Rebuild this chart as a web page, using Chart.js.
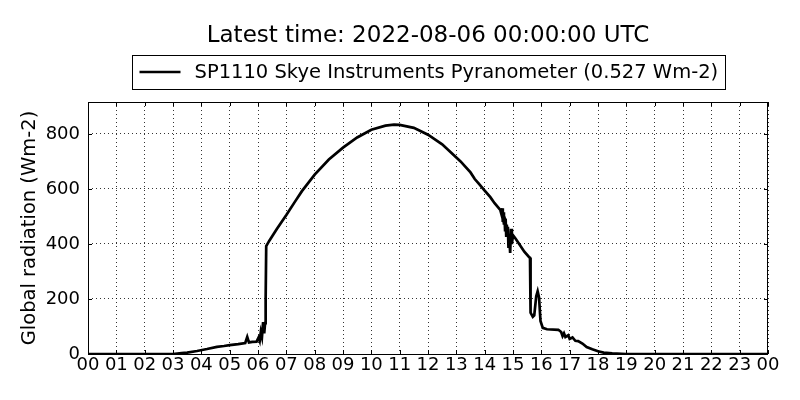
<!DOCTYPE html>
<html>
<head>
<meta charset="utf-8">
<script src="https://cdn.jsdelivr.net/npm/chart.js@4.4.1/dist/chart.umd.min.js"></script>
<style>
  html, body { margin: 0; padding: 0; background: #fff; }
  #wrap { width: 800px; height: 400px; }
</style>
</head>
<body>
<div id="wrap"><canvas id="radiation-chart"></canvas></div>
<script>
const titleText = 'Latest time: 2022-08-06 00:00:00 UTC';
const seriesLabel = 'SP1110 Skye Instruments Pyranometer (0.527 Wm-2)';
const yAxisLabel = 'Global radiation (Wm-2)';

// hours after 00 UTC
const hours = [
  0, 3.0, 3.3, 3.5, 3.85, 4.2, 4.55, 4.8, 5.0, 5.3, 5.55, 5.62, 5.68, 5.8, 5.95,
  6.02, 6.06, 6.1, 6.14, 6.18, 6.22, 6.25, 6.27, 6.29, 6.4, 6.67, 7.0, 7.3, 7.55,
  8.0, 8.5, 9.0, 9.5, 10.0, 10.5, 10.8, 11.0, 11.5, 12.0, 12.5, 13.0, 13.15, 13.3,
  13.5, 13.65, 13.8, 14.0, 14.2, 14.35, 14.55, 14.6, 14.62, 14.64, 14.66, 14.68,
  14.7, 14.72, 14.74, 14.76, 14.78, 14.8, 14.82, 14.84, 14.87, 14.9, 14.93, 14.96,
  15.0, 15.1, 15.23, 15.4, 15.57, 15.6,
  15.62, 15.7, 15.75, 15.82, 15.87, 15.92, 15.97, 16.05, 16.2, 16.6, 16.7, 16.75,
  16.8, 16.85, 16.95, 17.0, 17.1, 17.2, 17.3, 17.45, 17.6, 17.8, 18.0, 18.2, 18.5,
  19.0, 24
];
const radiation = [
  0, 0, 3, 5, 11, 18, 26, 29, 32, 36, 40, 62, 42, 44, 45,
  60, 48, 80, 62, 116, 75, 112, 200, 392, 412, 455, 505, 553, 592,
  652, 707, 750, 787, 815, 830, 834, 833, 822, 797, 762, 714, 700, 683,
  660, 636, 618, 594, 570, 548, 524, 505, 530, 480, 515, 470,
  500, 450, 492, 430, 470, 440, 462, 385, 420, 367, 455, 400,
  432, 418, 398, 372, 352, 350,
  150, 135, 140, 210, 228, 205, 120, 95, 90, 88, 80, 65,
  75, 62, 68, 55, 60, 48, 47, 38, 25, 17, 10, 5, 2,
  0, 0
];
const yTicks = [0, 200, 400, 600, 800];
const hourLabels = [
  '00', '01', '02', '03', '04', '05', '06', '07', '08', '09', '10', '11', '12',
  '13', '14', '15', '16', '17', '18', '19', '20', '21', '22', '23', '00'
];

const font = 'DejaVu Sans';
Chart.defaults.color = '#000';
Chart.defaults.font.family = font;

// matplotlib-ish frame, inward ticks, title and boxed legend
const framePlugin = {
  id: 'frame',
  afterDraw(chart) {
    const { ctx, chartArea: a, scales } = chart;
    ctx.save();
    ctx.strokeStyle = '#000';
    ctx.lineWidth = 1;
    ctx.setLineDash([]);
    ctx.strokeRect(a.left + 0.5, a.top + 0.5, a.right - a.left - 1, a.bottom - a.top);

    ctx.beginPath();
    scales.x.ticks.forEach(t => {
      const px = Math.round(scales.x.getPixelForValue(t.value)) + 0.5;
      ctx.moveTo(px, a.bottom); ctx.lineTo(px, a.bottom - 4);
      ctx.moveTo(px, a.top); ctx.lineTo(px, a.top + 4);
    });
    scales.y.ticks.forEach(t => {
      const py = Math.round(scales.y.getPixelForValue(t.value)) + 0.5;
      ctx.moveTo(a.left, py); ctx.lineTo(a.left + 4, py);
      ctx.moveTo(a.right, py); ctx.lineTo(a.right - 4, py);
    });
    ctx.stroke();

    const cx = (a.left + a.right) / 2;
    ctx.fillStyle = '#000';
    ctx.textBaseline = 'middle';
    ctx.textAlign = 'center';
    ctx.font = '23px "' + font + '"';
    ctx.fillText(titleText, cx, 36);

    ctx.font = '19.5px "' + font + '"';
    const tw = ctx.measureText(seriesLabel).width;
    const boxW = 7 + 41 + 14 + tw + 7;
    const bx = Math.round(cx - boxW / 2) + 0.5;
    ctx.strokeRect(bx, 55.5, Math.round(boxW), 34);
    ctx.lineWidth = 2.5;
    ctx.beginPath();
    ctx.moveTo(bx + 7, 72);
    ctx.lineTo(bx + 48, 72);
    ctx.stroke();
    ctx.textAlign = 'left';
    ctx.fillText(seriesLabel, bx + 62, 72.5);
    ctx.restore();
  }
};

const ctx = document.getElementById('radiation-chart').getContext('2d');
const chart = new Chart(ctx, {
  type: 'line',
  data: {
    datasets: [{
      label: seriesLabel,
      data: hours.map((h, i) => ({ x: h, y: radiation[i] })),
      borderColor: '#000',
      borderWidth: 2.7,
      pointRadius: 0,
      tension: 0,
      fill: false
    }]
  },
  options: {
    responsive: true,
    maintainAspectRatio: false,
    animation: false,
    layout: { padding: { top: 102, right: 32, left: 0, bottom: 0 } },
    plugins: {
      legend: { display: false },
      title: { display: false },
      tooltip: { enabled: false }
    },
    scales: {
      x: {
        type: 'linear',
        min: 0,
        max: 24,
        afterFit(scale) { scale.height = 46; },
        ticks: {
          stepSize: 1,
          autoSkip: false,
          maxRotation: 0,
          padding: 1,
          font: { size: 18 },
          callback: (v) => hourLabels[v]
        },
        grid: { color: '#000', lineWidth: 0.8, drawTicks: false },
        border: { display: false, dash: [1, 3] }
      },
      y: {
        min: 0,
        max: 916,
        afterFit(scale) { scale.width = 88; },
        afterBuildTicks(scale) {
          scale.ticks = yTicks.map(v => ({ value: v }));
        },
        ticks: {
          padding: 8,
          font: { size: 18 },
          callback: (v) => String(v)
        },
        grid: { color: '#000', lineWidth: 0.8, drawTicks: false },
        border: { display: false, dash: [1, 3] },
        title: {
          display: true,
          text: yAxisLabel,
          font: { size: 19.5 },
          padding: { top: 18, bottom: 0 }
        }
      }
    }
  },
  plugins: [framePlugin]
});
</script>
</body>
</html>
